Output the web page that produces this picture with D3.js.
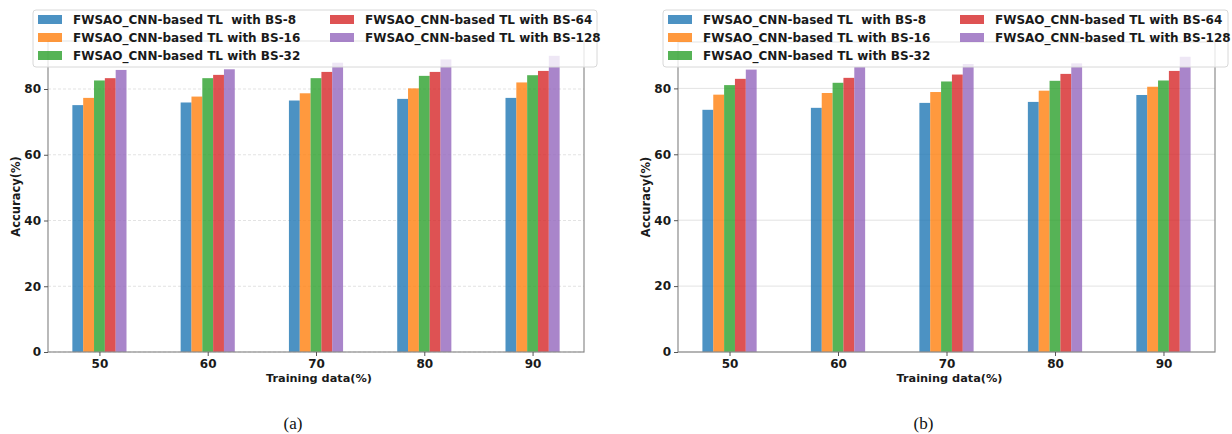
<!DOCTYPE html>
<html>
<head>
<meta charset="utf-8">
<script src="https://cdn.jsdelivr.net/npm/d3@7"></script>
<style>
  body { margin: 0; background: #fff; }
  svg { display: block; font-family: "DejaVu Sans", sans-serif; }
</style>
</head>
<body>
<script>
// values
const categories = ['50', '60', '70', '80', '90'];
const seriesNames = [
    'FWSAO_CNN-based TL  with BS-8',
    'FWSAO_CNN-based TL with BS-16',
    'FWSAO_CNN-based TL with BS-32',
    'FWSAO_CNN-based TL with BS-64',
    'FWSAO_CNN-based TL with BS-128'
];
const colors = ['#1f77b4', '#ff7f0e', '#2ca02c', '#d62728', '#9467bd'];
const yTicks = [0, 20, 40, 60, 80];

const bs8A = [75.1, 75.9, 76.5, 77.0, 77.3];
const bs16A = [77.3, 77.7, 78.7, 80.2, 82.0];
const bs32A = [82.6, 83.3, 83.3, 84.0, 84.2];
const bs64A = [83.3, 84.3, 85.2, 85.2, 85.5];
const bs128A = [85.8, 86.0, 88.0, 89.0, 90.1];

const bs8B = [73.5, 74.1, 75.6, 75.9, 78.0];
const bs16B = [78.1, 78.6, 78.9, 79.3, 80.5];
const bs32B = [81.0, 81.7, 82.1, 82.3, 82.4];
const bs64B = [82.9, 83.2, 84.2, 84.4, 85.3];
const bs128B = [85.7, 86.5, 87.4, 87.6, 89.6];

const W = 1232, H = 434;
const svg = d3.select('body').append('svg').attr('width', W).attr('height', H);

const panels = [
    {left: 48, right: 584, top: 41, bottom: 352, caption: '(a)', dashed: true,
        data: [bs8A, bs16A, bs32A, bs64A, bs128A]},
    {left: 678, right: 1215, top: 42, bottom: 352, caption: '(b)', dashed: false,
        data: [bs8B, bs16B, bs32B, bs64B, bs128B]}
];

const spineColor = '#8c8c8c';

panels.forEach(p => {
    const g = svg.append('g');
    const maxV = d3.max(p.data.flat());

    const x0 = d3.scaleBand().domain(categories).range([p.left, p.right])
        .paddingInner(0.5).paddingOuter(0.225);
    const x1 = d3.scaleBand().domain(d3.range(seriesNames.length)).range([0, x0.bandwidth()]);
    const y = d3.scaleLinear().domain([0, maxV * 1.05]).range([p.bottom, p.top]);

    // grid
    g.append('g').selectAll('line').data(yTicks).join('line')
        .attr('x1', p.left).attr('x2', p.right)
        .attr('y1', d => y(d)).attr('y2', d => y(d))
        .attr('stroke', '#dcdcdc').attr('stroke-width', 0.8)
        .attr('stroke-dasharray', p.dashed ? '3,2' : null);

    // bars
    const groups = g.append('g').selectAll('g').data(categories).join('g')
        .attr('transform', c => `translate(${x0(c)},0)`);
    groups.selectAll('rect')
        .data((c, i) => p.data.map((s, j) => ({j: j, v: s[i]})))
        .join('rect')
        .attr('x', d => x1(d.j))
        .attr('width', x1.bandwidth())
        .attr('y', d => y(d.v))
        .attr('height', d => y(0) - y(d.v))
        .attr('fill', d => colors[d.j])
        .attr('fill-opacity', 0.8);

    // frame
    g.append('rect')
        .attr('x', p.left).attr('y', p.top)
        .attr('width', p.right - p.left).attr('height', p.bottom - p.top)
        .attr('fill', 'none').attr('stroke', spineColor).attr('stroke-width', 1.2);

    // axes
    const xAxis = d3.axisBottom(d3.scalePoint().domain(categories)
        .range([x0(categories[0]) + x0.bandwidth() / 2,
            x0(categories[categories.length - 1]) + x0.bandwidth() / 2]))
        .tickSize(4).tickPadding(3);
    const gx = g.append('g').attr('transform', `translate(0,${p.bottom})`).call(xAxis);
    const yAxis = d3.axisLeft(y).tickValues(yTicks).tickSize(4).tickPadding(3);
    const gy = g.append('g').attr('transform', `translate(${p.left},0)`).call(yAxis);
    [gx, gy].forEach(a => {
        a.select('.domain').remove();
        a.selectAll('line').attr('stroke', '#555');
        a.selectAll('text').attr('fill', '#1a1a1a')
            .style('font-size', '12px').style('font-weight', 'bold')
            .style('font-family', '"DejaVu Sans", sans-serif');
    });

    // axis titles
    g.append('text')
        .attr('x', (p.left + p.right) / 2 + 3).attr('y', p.bottom + 30)
        .attr('text-anchor', 'middle')
        .style('font-size', '11.3px').style('font-weight', 'bold').attr('fill', '#1a1a1a')
        .text('Training data(%)');
    g.append('text')
        .attr('transform', `translate(${p.left - 28},${(p.top + p.bottom) / 2}) rotate(-90)`)
        .attr('text-anchor', 'middle')
        .style('font-size', '11.5px').style('font-weight', 'bold').attr('fill', '#1a1a1a')
        .text('Accuracy(%)');

    // legend
    const lg = g.append('g').attr('transform', `translate(${p.left - 15},10)`);
    lg.append('rect')
        .attr('width', p.right - p.left + 28).attr('height', 57)
        .attr('rx', 3)
        .attr('fill', '#fff').attr('fill-opacity', 0.8)
        .attr('stroke', '#d8d8d8').attr('stroke-width', 1);
    const items = lg.selectAll('g.item').data(seriesNames).join('g')
        .attr('class', 'item')
        .attr('transform', (d, i) => `translate(${i < 3 ? 5 : 297},${9.5 + (i % 3) * 18})`);
    items.append('rect')
        .attr('x', 0).attr('y', -4.5).attr('width', 24).attr('height', 9)
        .attr('fill', (d, i) => colors[i]).attr('fill-opacity', 0.8);
    items.append('text')
        .attr('x', 35).attr('y', 4.3)
        .style('font-size', '12px').style('font-weight', 'bold')
        .style('white-space', 'pre').attr('fill', '#1a1a1a')
        .text(d => d);

    // caption
    svg.append('text')
        .attr('x', p.left + (p.right - p.left) / 2 - 23).attr('y', 429)
        .attr('text-anchor', 'middle')
        .style('font-family', '"Liberation Serif", "DejaVu Serif", serif')
        .style('font-size', '17px').attr('fill', '#111')
        .text(p.caption);
});
</script>
</body>
</html>
